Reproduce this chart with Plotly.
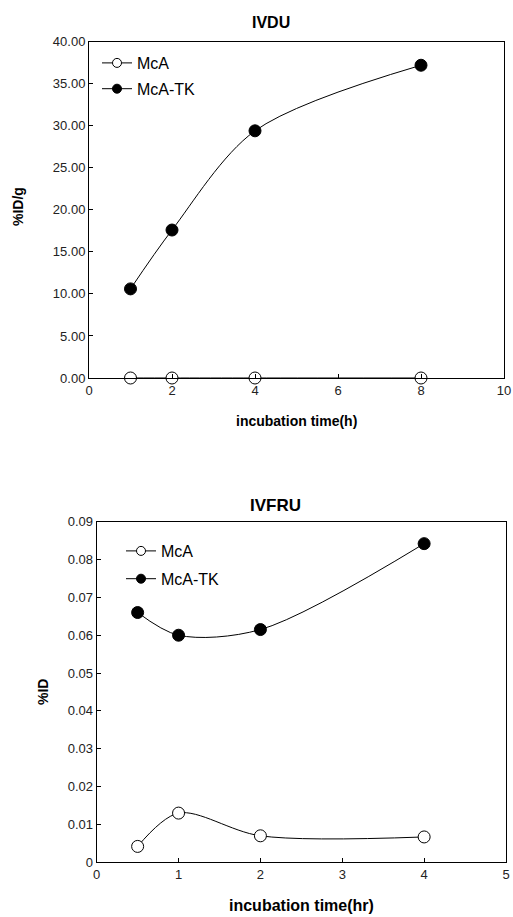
import plotly.graph_objects as go

# Top chart (IVDU)
t1 = [1, 2, 4, 8]
mca_1 = [0.0, 0.0, 0.0, 0.0]
mcatk_1 = [10.6, 17.6, 29.4, 37.2]
y1_ticks = [0, 5, 10, 15, 20, 25, 30, 35, 40]
x1_ticks = [0, 2, 4, 6, 8, 10]

# Bottom chart (IVFRU)
t2 = [0.5, 1, 2, 4]
mca_2 = [0.0042, 0.013, 0.0070, 0.0067]
mcatk_2 = [0.066, 0.060, 0.0615, 0.0842]
y2_ticks = [0, 0.01, 0.02, 0.03, 0.04, 0.05, 0.06, 0.07, 0.08, 0.09]
x2_ticks = [0, 1, 2, 3, 4, 5]

FONT = "Liberation Sans, Arial, sans-serif"
W, H = 513, 917

fig = go.Figure()

def add(x, y, name, filled, xa, ya, leg):
    fig.add_trace(go.Scatter(
        x=x, y=y, name=name, mode="lines+markers",
        line=dict(color="black", width=1, shape="spline", smoothing=0.9),
        marker=dict(size=12, symbol="circle",
                    color="black" if filled else "white",
                    line=dict(color="black", width=1)),
        xaxis=xa, yaxis=ya, showlegend=False, cliponaxis=False,
    ))
    # legend entry with smaller marker
    fig.add_trace(go.Scatter(
        x=[None], y=[None], name=name, mode="lines+markers",
        line=dict(color="black", width=1),
        marker=dict(size=9, symbol="circle",
                    color="black" if filled else "white",
                    line=dict(color="black", width=1)),
        xaxis=xa, yaxis=ya, legend=leg, legendgroup=leg + name,
    ))

add(t1, mca_1, "McA", False, "x", "y", "legend")
add(t1, mcatk_1, "McA-TK", True, "x", "y", "legend")
add(t2, mca_2, "McA", False, "x2", "y2", "legend2")
add(t2, mcatk_2, "McA-TK", True, "x2", "y2", "legend2")

axis_common = dict(showline=True, linecolor="black", linewidth=1, mirror=True,
                   ticks="inside", ticklen=4, tickcolor="black", showgrid=False,
                   zeroline=False, automargin=False,
                   tickfont=dict(family=FONT, size=13, color="#222"))

def px_x(p):
    return p / W

def px_y(p):
    return 1 - p / H

fig.update_layout(
    width=W, height=H,
    margin=dict(l=0, r=0, t=0, b=0, pad=0, autoexpand=False),
    paper_bgcolor="white", plot_bgcolor="white",
    font=dict(family=FONT, color="black"),
    xaxis=dict(domain=[px_x(89), px_x(504)], range=[0, 10], tickvals=x1_ticks,
               anchor="y", **axis_common),
    yaxis=dict(domain=[px_y(378), px_y(41.7)], range=[0, 40], tickvals=y1_ticks,
               ticktext=[f"{v:.2f}" for v in y1_ticks], anchor="x", **axis_common),
    xaxis2=dict(domain=[px_x(96.7), px_x(506)], range=[0, 5], tickvals=x2_ticks,
                anchor="y2", **axis_common),
    yaxis2=dict(domain=[px_y(862.3), px_y(521.7)], range=[0, 0.09], tickvals=y2_ticks,
                ticktext=["0"] + [f"{v:.2f}" for v in y2_ticks[1:]], anchor="x2",
                **axis_common),
    legend=dict(x=px_x(97), y=px_y(46), xanchor="left", yanchor="top",
                bgcolor="rgba(0,0,0,0)", font=dict(family=FONT, size=16),
                itemclick=False, tracegroupgap=2),
    legend2=dict(x=px_x(121), y=px_y(534), xanchor="left", yanchor="top",
                 bgcolor="rgba(0,0,0,0)", font=dict(family=FONT, size=16),
                 itemclick=False, tracegroupgap=4),
)

ann = [
    ("<b>IVDU</b>", 271, 22, 16, 0),
    ("<b>incubation time(h)</b>", 296, 421, 14, 0),
    ("<b>%ID/g</b>", 18, 207, 14, -90),
    ("<b>IVFRU</b>", 275, 505, 17, 0),
    ("<b>incubation time(hr)</b>", 301, 905, 16, 0),
    ("<b>%ID</b>", 43, 692, 14, -90),
]
for text, x, y, size, ang in ann:
    fig.add_annotation(xref="paper", yref="paper", showarrow=False,
                       xanchor="center", yanchor="middle",
                       font=dict(family=FONT, color="black", size=size),
                       text=text, x=px_x(x), y=px_y(y), textangle=ang)

fig.write_html(
    "out.html",
    config={"displayModeBar": False, "staticPlot": True},
    post_script="document.body.style.margin='0';document.body.style.overflow='hidden';",
)
